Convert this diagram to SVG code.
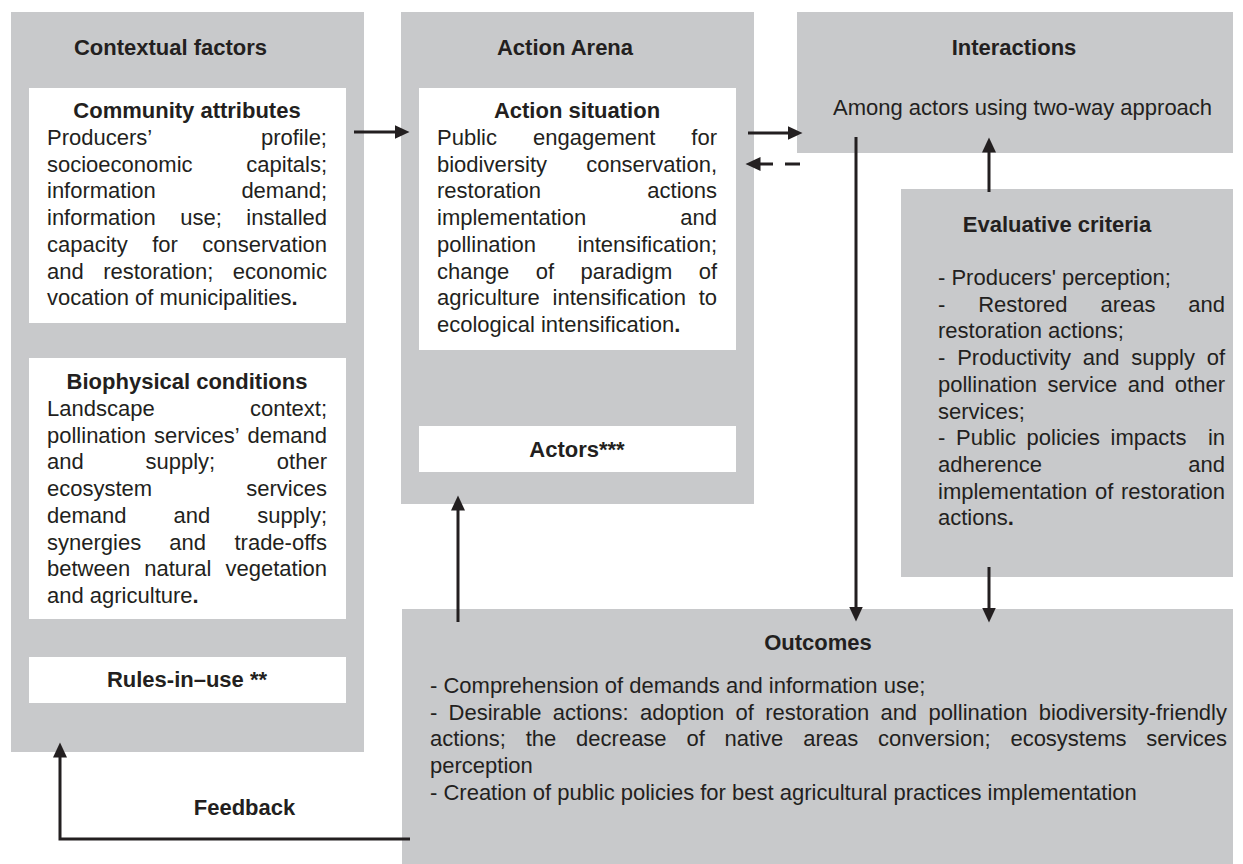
<svg xmlns="http://www.w3.org/2000/svg" width="1243" height="864" viewBox="0 0 1243 864">
<style>
.panel{fill:#c8c9cb}
.box{fill:#ffffff}
text{font-family:"Liberation Sans",Arial,sans-serif;font-size:22px;fill:#231f20}
.b{font-weight:bold}
.m{text-anchor:middle}
.e{text-anchor:end}
.con{fill:none;stroke:#231f20;stroke-width:3;marker-end:url(#ah)}
.dash{stroke-dasharray:15 12}
</style>
<defs>
<marker id="ah" markerUnits="userSpaceOnUse" markerWidth="16" markerHeight="16" refX="0.5" refY="7" orient="auto">
<path d="M0,0 L15,7 L0,14 Z" fill="#231f20"/>
</marker>
</defs>
<rect width="1243" height="864" fill="#ffffff"/>

<g id="contextual-factors">
<rect class="panel" x="11" y="12" width="353" height="740"/>
<text class="b m" x="170.5" y="55">Contextual factors</text>
</g>

<g id="community-attributes">
<rect class="box" x="29" y="88" width="317" height="235"/>
<text class="b m" x="187" y="118">Community attributes</text>
<text y="145"><tspan x="47">Producers’</tspan><tspan class="e" x="327">profile;</tspan></text>
<text y="171.7"><tspan x="47">socioeconomic</tspan><tspan class="e" x="327">capitals;</tspan></text>
<text y="198.4"><tspan x="47">information</tspan><tspan class="e" x="327">demand;</tspan></text>
<text y="225.1"><tspan x="47">information</tspan><tspan x="180.3">use;</tspan><tspan class="e" x="327">installed</tspan></text>
<text y="251.8"><tspan x="47">capacity</tspan><tspan x="152.2">for</tspan><tspan class="e" x="327">conservation</tspan></text>
<text y="278.5"><tspan x="47">and</tspan><tspan x="103.3">restoration;</tspan><tspan class="e" x="327">economic</tspan></text>
<text x="47" y="305.2">vocation of municipalities<tspan class="b">.</tspan></text>
</g>

<g id="biophysical-conditions">
<rect class="box" x="29" y="358" width="317" height="261"/>
<text class="b m" x="187" y="389">Biophysical conditions</text>
<text y="416"><tspan x="47">Landscape</tspan><tspan class="e" x="327">context;</tspan></text>
<text y="442.7"><tspan x="47">pollination</tspan><tspan x="154">services’</tspan><tspan class="e" x="327">demand</tspan></text>
<text y="469.4"><tspan x="47">and</tspan><tspan x="145.5">supply;</tspan><tspan class="e" x="327">other</tspan></text>
<text y="496.1"><tspan x="47">ecosystem</tspan><tspan class="e" x="327">services</tspan></text>
<text y="522.8"><tspan x="47">demand</tspan><tspan x="173.6">and</tspan><tspan class="e" x="327">supply;</tspan></text>
<text y="549.5"><tspan x="47">synergies</tspan><tspan x="169.3">and</tspan><tspan class="e" x="327">trade-offs</tspan></text>
<text y="576.2"><tspan x="47">between</tspan><tspan x="144.2">natural</tspan><tspan class="e" x="327">vegetation</tspan></text>
<text x="47" y="602.9">and agriculture<tspan class="b">.</tspan></text>
</g>

<g id="rules-in-use">
<rect class="box" x="29" y="657" width="317" height="46"/>
<text class="b m" x="187" y="687">Rules-in–use **</text>
</g>

<g id="action-arena">
<rect class="panel" x="401" y="12" width="353" height="492"/>
<text class="b m" x="565" y="55">Action Arena</text>
</g>

<g id="action-situation">
<rect class="box" x="419" y="88" width="317" height="262"/>
<text class="b m" x="577" y="118">Action situation</text>
<text y="145"><tspan x="437">Public</tspan><tspan x="533">engagement</tspan><tspan class="e" x="717">for</tspan></text>
<text y="171.7"><tspan x="437">biodiversity</tspan><tspan class="e" x="717">conservation,</tspan></text>
<text y="198.4"><tspan x="437">restoration</tspan><tspan class="e" x="717">actions</tspan></text>
<text y="225.1"><tspan x="437">implementation</tspan><tspan class="e" x="717">and</tspan></text>
<text y="251.8"><tspan x="437">pollination</tspan><tspan class="e" x="717">intensification;</tspan></text>
<text y="278.5"><tspan x="437">change</tspan><tspan x="535.7">of</tspan><tspan x="580.5">paradigm</tspan><tspan class="e" x="717">of</tspan></text>
<text y="305.2"><tspan x="437">agriculture</tspan><tspan x="552.6">intensification</tspan><tspan class="e" x="717">to</tspan></text>
<text x="437" y="331.9">ecological intensification<tspan class="b">.</tspan></text>
</g>

<g id="actors">
<rect class="box" x="419" y="426" width="317" height="46"/>
<text class="b m" x="577" y="457">Actors***</text>
</g>

<g id="interactions">
<rect class="panel" x="797" y="12" width="436" height="141"/>
<text class="b m" x="1014" y="55">Interactions</text>
<text x="833" y="115">Among actors using two-way approach</text>
</g>

<g id="evaluative-criteria">
<rect class="panel" x="901" y="189" width="332" height="388"/>
<text class="b m" x="1057" y="232">Evaluative criteria</text>
<text x="938" y="285">- Producers' perception;</text>
<text y="311.7"><tspan x="938">-</tspan><tspan x="978.2">Restored</tspan><tspan x="1100.4">areas</tspan><tspan class="e" x="1225">and</tspan></text>
<text x="938" y="338.4">restoration actions;</text>
<text y="365.1"><tspan x="938">-</tspan><tspan x="957.2">Productivity</tspan><tspan x="1082.7">and</tspan><tspan x="1131.3">supply</tspan><tspan class="e" x="1225">of</tspan></text>
<text y="391.8"><tspan x="938">pollination</tspan><tspan x="1047.5">service</tspan><tspan x="1127.7">and</tspan><tspan class="e" x="1225">other</tspan></text>
<text x="938" y="418.5">services;</text>
<text y="445.2"><tspan x="938">-</tspan><tspan x="956">Public</tspan><tspan x="1026.6">policies</tspan><tspan x="1110.6">impacts</tspan><tspan class="e" x="1225">in</tspan></text>
<text y="471.9"><tspan x="938">adherence</tspan><tspan class="e" x="1225">and</tspan></text>
<text y="498.6"><tspan x="938">implementation</tspan><tspan x="1095">of</tspan><tspan class="e" x="1225">restoration</tspan></text>
<text x="938" y="525.3">actions<tspan class="b">.</tspan></text>
</g>

<g id="outcomes">
<rect class="panel" x="402" y="609" width="831" height="255"/>
<text class="b m" x="818" y="650">Outcomes</text>
<text x="430" y="693">- Comprehension of demands and information use;</text>
<text y="719.7"><tspan x="430">-</tspan><tspan x="448.6">Desirable</tspan><tspan x="552.8">actions:</tspan><tspan x="639.9">adoption</tspan><tspan x="735.6">of</tspan><tspan x="765.2">restoration</tspan><tspan x="880.4">and</tspan><tspan x="928.4">pollination</tspan><tspan class="e" x="1227">biodiversity-friendly</tspan></text>
<text y="746.4"><tspan x="430">actions;</tspan><tspan x="525.7">the</tspan><tspan x="576.1">decrease</tspan><tspan x="686.5">of</tspan><tspan x="724.6">native</tspan><tspan x="803.2">areas</tspan><tspan x="878">conversion;</tspan><tspan x="1010.4">ecosystems</tspan><tspan class="e" x="1227">services</tspan></text>
<text x="430" y="773.1">perception</text>
<text x="430" y="799.8">- Creation of public policies for best agricultural practices implementation</text>
</g>

<g id="connectors">
<path class="con" d="M354,132 H395"/>
<path class="con" d="M748,133 H788"/>
<path class="con dash" d="M800,164 H760"/>
<path class="con" d="M856,137 V607"/>
<path class="con" d="M989,192 V152"/>
<path class="con" d="M989,567 V608"/>
<path class="con" d="M458,622 V510"/>
<path class="con" d="M410,839 H60 V757"/>
<text class="b m" x="244.5" y="815">Feedback</text>
</g>
</svg>
